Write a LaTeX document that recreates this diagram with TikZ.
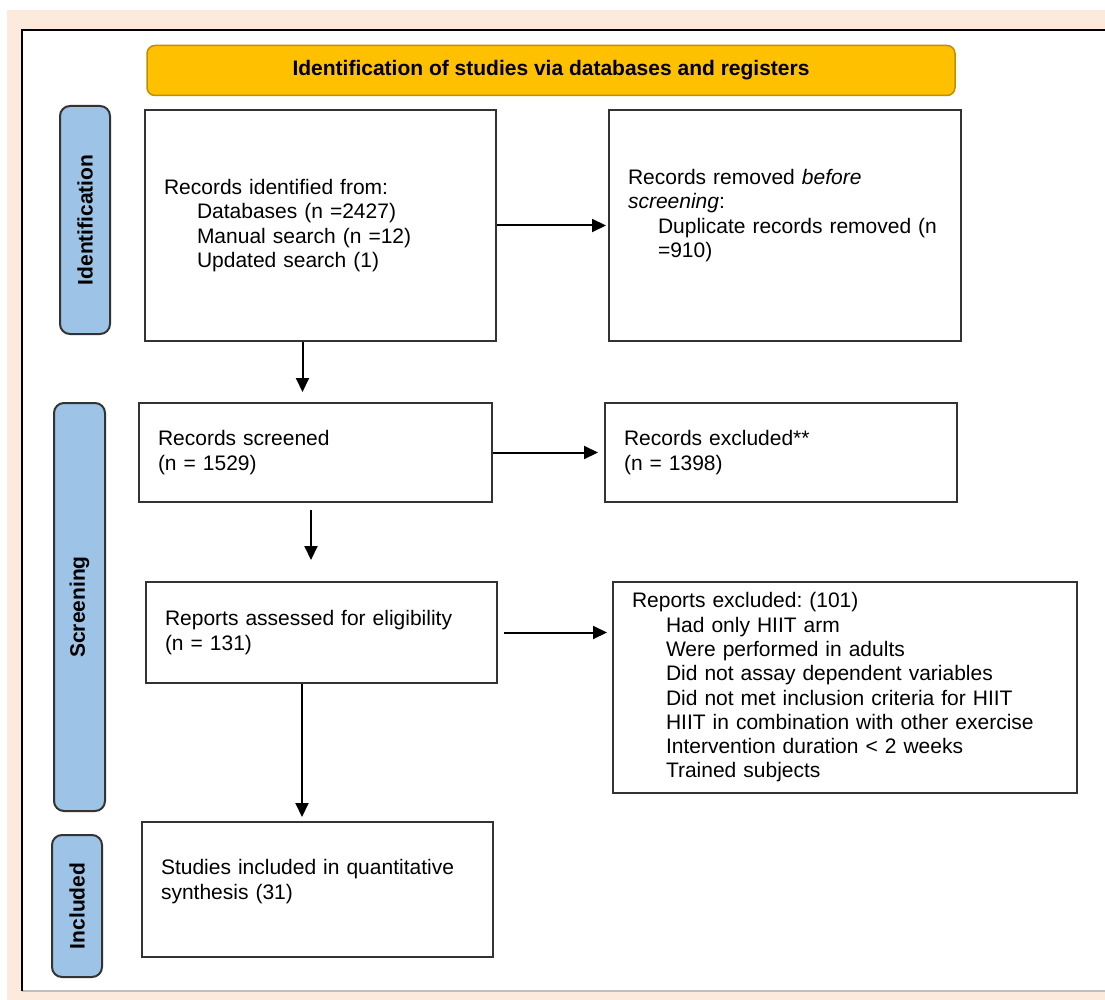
\documentclass[tikz,border=0pt]{standalone}
\usepackage{fontspec}
\setmainfont{Liberation Sans}
\usepackage{tikz}
\usetikzlibrary{arrows.meta,positioning,calc}
\definecolor{pagebg}{HTML}{FCEADC}
\definecolor{hdrfill}{HTML}{FFC000}
\definecolor{hdrline}{HTML}{BF9000}
\definecolor{phase}{HTML}{9DC3E6}
\frenchspacing

\begin{document}
\begin{tikzpicture}[x=1pt, y=-1pt,
        box/.style={draw=black!80, line width=2pt, fill=white, inner xsep=19pt, align=left,
                    font=\fontsize{21}{24.3}\selectfont},
        hdr/.style={draw=hdrline, line width=1.5pt, rounded corners=8pt, fill=hdrfill,
                    minimum width=808pt, minimum height=50pt, font=\fontsize{21}{24.3}\selectfont\bfseries},
        lbl/.style={draw=black!80, line width=2pt, rounded corners=10pt, fill=phase, rotate=90,
                    font=\fontsize{21}{24.3}\selectfont\bfseries},
        arr/.style={-{Triangle[length=14pt, width=13pt]}, line width=2pt, black}]
        \useasboundingbox (0,0) rectangle (1105,1000);
        \fill[white] (0,0) rectangle (1105,1000);
        \fill[pagebg] (7,10) rectangle (1105,1000);
        \fill[white] (22,30) rectangle (1105,991);
        \draw[black!25, line width=1.5pt] (22,991) -- (1105,991);
        \draw[line width=1.5pt] (22,991) -- (22,30) -- (1105,30);

        \node[hdr] (hdr) at (551,70.5) {Identification of studies via databases and registers};
        \node[lbl, minimum width=228pt, minimum height=50pt] (lid) at (85,220) {Identification};
        \node[lbl, minimum width=408pt, minimum height=51pt] (lscr) at (79.5,607) {Screening};
        \node[lbl, minimum width=142pt, minimum height=50pt] (linc) at (77,906) {Included};

        \node[box, text width=313pt, minimum height=231pt] (b1) at (320.5,225.5)
              {Records identified from:\\ \hspace*{33pt}Databases (n =2427)\\
               \hspace*{33pt}Manual search (n =12)\\ \hspace*{33pt}Updated search (1)};
        \node[box, text width=314pt, minimum height=231pt, right=111pt of b1] (b2)
              {Records removed \textit{before}\\ \textit{screening}:\\
               \hspace*{30pt}Duplicate records removed (n\\ \hspace*{30pt}=910)\rule[-24pt]{0pt}{24pt}};
        \node[box, text width=315pt, minimum height=99pt] (b3) at (315.5,452.5)
              {Records screened\\(n = 1529)};
        \node[box, text width=314pt, minimum height=99pt, right=111pt of b3] (b4)
              {Records excluded**\\(n = 1398)};
        \node[box, text width=313pt, minimum height=101pt] (b5) at (321.5,632.5)
              {Reports assessed for eligibility\\(n = 131)};
        \node[box, text width=426pt, minimum height=211pt, right=114pt of b5.north east, anchor=north west] (b6)
              {Reports excluded: (101)\\ \hspace*{34pt}Had only HIIT arm\\
               \hspace*{34pt}Were performed in adults\\ \hspace*{34pt}Did not assay dependent variables\\
               \hspace*{34pt}Did not met inclusion criteria for HIIT\\
               \hspace*{34pt}HIIT in combination with other exercise\\
               \hspace*{34pt}Intervention duration < 2 weeks\\ \hspace*{34pt}Trained subjects};
        \node[box, text width=313pt, minimum height=135pt] (b7) at (317.5,889.5)
              {Studies included in quantitative\\synthesis (31)\rule[-20pt]{0pt}{20pt}};

        \draw[arr, shorten >=2pt] (b1) -- (b2);
        \draw[arr, shorten >=10pt] ($(b1.south)+(-18,0)$) -- ($(b1.south |- b3.north)+(-18,0)$);
        \draw[arr, shorten >=6pt] (b3) -- (b4);
        \draw[arr, shorten <=7pt, shorten >=21pt] ($(b3.south)+(-4.5,0)$) -- ($(b3.south |- b5.north)+(-4.5,0)$);
        \draw[arr, shorten <=6pt, shorten >=5pt] (b5.east) -- (b5.east -| b6.west);
        \draw[arr, shorten >=4pt] ($(b5.south)+(-19.5,0)$) -- ($(b5.south |- b7.north)+(-19.5,0)$);
      \end{tikzpicture}
\end{document}
